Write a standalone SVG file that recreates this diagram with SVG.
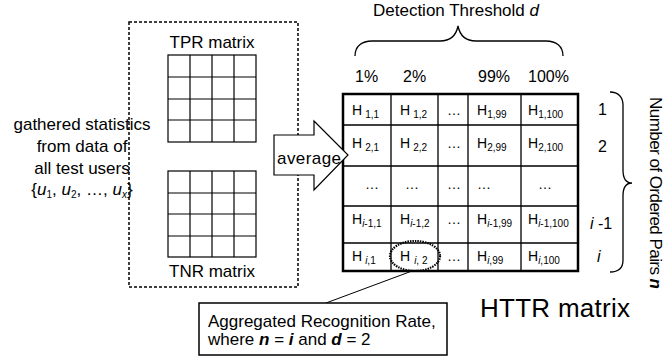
<svg xmlns="http://www.w3.org/2000/svg" width="666" height="358" viewBox="0 0 666 358">
<style>
text{font-family:"Liberation Sans",Arial,sans-serif;fill:#000}
.f17{font-size:17px}
.f16{font-size:16px}
.h{font-size:14px}
.sub{font-size:10px}
.it{font-style:italic}
.bi{font-style:italic;font-weight:bold}
.grid{stroke:#000;stroke-width:1.2;fill:none}
.thin{stroke:#000;stroke-width:1.3;fill:none}
.dash{stroke:#000;stroke-width:1.5;fill:none;stroke-dasharray:3 2}
</style>
<rect width="666" height="358" fill="#fff"/>

<g id="source-box">
<rect class="dash" x="129" y="22" width="169" height="265"/>
<text class="f17" x="82" y="130" text-anchor="middle">gathered statistics</text>
<text class="f17" x="82" y="152" text-anchor="middle">from data of</text>
<text class="f17" x="82" y="174" text-anchor="middle">all test users</text>
<text class="f17" x="82" y="195" text-anchor="middle">{<tspan class="it">u</tspan><tspan class="sub" dy="3">1</tspan><tspan dy="-3">, </tspan><tspan class="it">u</tspan><tspan class="sub" dy="3">2</tspan><tspan dy="-3">, …, </tspan><tspan class="it">u</tspan><tspan class="sub it" dy="3">x</tspan><tspan dy="-3">}</tspan></text>
</g>

<g id="tpr-matrix">
<text class="f17" x="212" y="48" text-anchor="middle">TPR matrix</text>
<rect class="grid" x="168" y="55" width="88" height="87"/>
<path class="grid" d="M190,55V142M212,55V142M234,55V142M168,77H256M168,99H256M168,120H256"/>
</g>

<g id="tnr-matrix">
<rect class="grid" x="168" y="171" width="88" height="86"/>
<path class="grid" d="M190,171V257M212,171V257M234,171V257M168,193H256M168,214H256M168,236H256"/>
<text class="f17" x="212" y="277" text-anchor="middle">TNR matrix</text>
</g>

<g id="httr-matrix">
<text class="f17" x="373" y="16" textLength="166">Detection Threshold <tspan class="it">d</tspan></text>
<text class="f16" x="355" y="82">1%</text>
<text class="f16" x="403" y="82">2%</text>
<text class="f16" x="478" y="82">99%</text>
<text class="f16" x="528" y="82">100%</text>
<path class="thin" d="M343,125H578M343,166H578M343,206H578M343,243H578M391,94V271M438,94V271M468,94V271M521,94V271"/>
<rect x="343" y="94" width="235" height="177" fill="none" stroke="#000" stroke-width="2.5"/>

<text class="h" x="352" y="115">H<tspan class="sub" dx="3" dy="3">1,1</tspan></text>
<text class="h" x="400" y="115">H<tspan class="sub" dx="3" dy="3">1,2</tspan></text>
<text class="h" x="447" y="115">…</text>
<text class="h" x="477" y="115">H<tspan class="sub" dy="3">1,99</tspan></text>
<text class="h" x="528" y="115">H<tspan class="sub" dy="3">1,100</tspan></text>

<text class="h" x="352" y="148">H<tspan class="sub" dx="3" dy="3">2,1</tspan></text>
<text class="h" x="400" y="148">H<tspan class="sub" dx="3" dy="3">2,2</tspan></text>
<text class="h" x="447" y="148">…</text>
<text class="h" x="477" y="148">H<tspan class="sub" dy="3">2,99</tspan></text>
<text class="h" x="528" y="148">H<tspan class="sub" dy="3">2,100</tspan></text>

<text class="h" x="365" y="189">…</text>
<text class="h" x="405" y="189">…</text>
<text class="h" x="447" y="189">…</text>
<text class="h" x="477" y="189">…</text>
<text class="h" x="538" y="189">…</text>

<text class="h" x="352" y="224">H<tspan class="sub" dy="3"><tspan class="it">i</tspan>-1,1</tspan></text>
<text class="h" x="400" y="224">H<tspan class="sub" dy="3"><tspan class="it">i</tspan>-1,2</tspan></text>
<text class="h" x="447" y="224">…</text>
<text class="h" x="477" y="224">H<tspan class="sub" dy="3"><tspan class="it">i</tspan>-1,99</tspan></text>
<text class="h" x="528" y="224">H<tspan class="sub" dy="3"><tspan class="it">i</tspan>-1,100</tspan></text>

<text class="h" x="352" y="261">H<tspan class="sub" dx="3" dy="3"><tspan class="it">i</tspan>,1</tspan></text>
<text class="h" x="400" y="261">H<tspan class="sub" dx="4" dy="3"><tspan class="it">i</tspan>, 2</tspan></text>
<text class="h" x="447" y="261">…</text>
<text class="h" x="477" y="261">H<tspan class="sub" dy="3"><tspan class="it">i</tspan>,99</tspan></text>
<text class="h" x="528" y="261">H<tspan class="sub" dy="3"><tspan class="it">i</tspan>,100</tspan></text>

<text class="f16" x="598" y="115">1</text>
<text class="f16" x="598" y="152">2</text>
<text class="f16" x="590" y="229"><tspan class="it">i</tspan> -1</text>
<text class="f16" x="597" y="262" font-style="italic">i</text>

<text x="480" y="317" font-size="26" textLength="150">HTTR matrix</text>
</g>

<g id="braces">
<path class="thin" d="M355,56C355,46 362,41 372,41L440,41C450,41 456,36 458,26C460,36 466,41 476,41L546,41C556,41 563,46 563,56"/>
<path class="thin" d="M610,92C618,92 623,97 623,105L623,170C623,178 626,183 632,183C626,183 623,188 623,196L623,260C623,268 618,272 610,272"/>
<text class="f17" transform="translate(650,97) rotate(90)" textLength="192">Number of Ordered Pairs <tspan class="bi">n</tspan></text>
</g>

<g id="average-arrow">
<polygon points="274,135 314,135 314,121 348,155 314,190 314,175 274,175" fill="#fff" stroke="#000" stroke-width="1.2"/>
<text class="f17" x="277" y="164" textLength="64">average</text>
</g>

<g id="connectors">
<ellipse cx="415" cy="256" rx="25" ry="15" fill="none" stroke="#000" stroke-width="2.2" stroke-dasharray="1.5 1"/>
<line x1="412" y1="271" x2="326" y2="303" stroke="#000" stroke-width="1"/>
</g>

<g id="callout">
<rect x="199" y="303" width="248" height="52" fill="#fff" stroke="#000" stroke-width="1.5"/>
<text class="f17" x="208" y="327">Aggregated Recognition Rate,</text>
<text class="f17" x="208" y="345">where <tspan class="bi">n</tspan> = <tspan class="bi">i</tspan> and <tspan class="bi">d</tspan> = 2</text>
</g>
</svg>
